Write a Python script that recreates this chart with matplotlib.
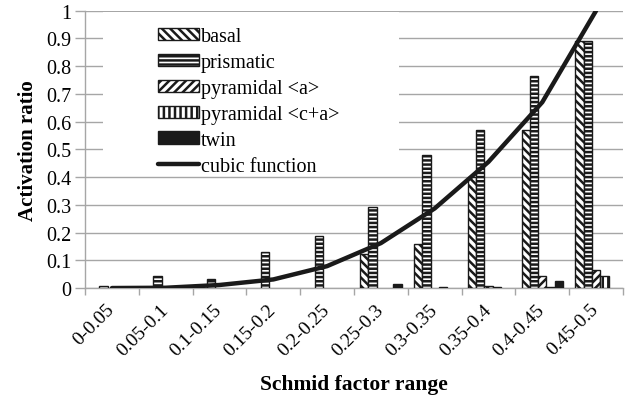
import numpy as np
import matplotlib
matplotlib.use("Agg")
from matplotlib import pyplot as plt
from matplotlib.patches import Rectangle
from matplotlib.transforms import ScaledTranslation

plt.rcParams['font.family'] = ['Liberation Serif', 'DejaVu Serif']
plt.rcParams['hatch.linewidth'] = 1.8

rangos = ["0-0.05", "0.05-0.1", "0.1-0.15", "0.15-0.2", "0.2-0.25",
          "0.25-0.3", "0.3-0.35", "0.35-0.4", "0.4-0.45", "0.45-0.5"]
basal = [0, 0, 0, 0, 0, 0.122, 0.159, 0.399, 0.568, 0.889]
prismatic = [0.008, 0.043, 0.032, 0.13, 0.186, 0.293, 0.479, 0.571, 0.763, 0.889]
pyr_a = [0, 0, 0, 0, 0, 0, 0, 0.008, 0.042, 0.066]
pyr_ca = [0, 0, 0, 0, 0, 0, 0.003, 0.003, 0.003, 0.045]
twin = [0, 0, 0, 0, 0, 0.014, 0, 0, 0.025, 0]
cubic = [0.0, 0.001, 0.011, 0.031, 0.079, 0.162, 0.287, 0.455, 0.67, 1.0]

fig = plt.figure(figsize=(6.27, 4.02), dpi=100)
ax = fig.add_axes([0.1356, 0.281, 0.858, 0.69])

x = np.arange(len(rangos))
w = 0.154
series = [
    ("basal", basal, "\\\\\\\\", "white"),
    ("prismatic", prismatic, "----", "white"),
    ("pyramidal <a>", pyr_a, "////", "white"),
    ("pyramidal <c+a>", pyr_ca, "|||", "white"),
    ("twin", twin, "", "#1a1a1a"),
]
handles = []
for i, (nombre, vals, h, col) in enumerate(series):
    v = np.array(vals, dtype=float)
    v = np.where(v > 0, v, np.nan)
    b = ax.bar(x + (i - 2) * w, v, w, color=col, edgecolor="#1a1a1a",
               hatch=h, linewidth=1.0, label=nombre, zorder=3)
    handles.append(b)

linea, = ax.plot(x, cubic, color="#1a1a1a", lw=3.2, solid_capstyle="round",
                 label="cubic function", zorder=4)
handles.append(linea)

# fondo blanco de la leyenda (tapa la rejilla)
ax.add_patch(Rectangle((0.033, 0.405), 0.55, 0.59, transform=ax.transAxes,
                       facecolor="white", edgecolor="none", zorder=2))

ax.set_xlim(-0.5, 9.5)
ax.set_ylim(0, 1)
ax.set_yticks(np.arange(0, 1.01, 0.1))
ax.set_yticklabels(["0", "0.1", "0.2", "0.3", "0.4", "0.5", "0.6", "0.7", "0.8", "0.9", "1"])
ax.yaxis.grid(True, color="#a6a6a6", lw=1.0, zorder=0)
ax.set_axisbelow(True)

ax.set_xticks(x)
ax.set_xticklabels(rangos, rotation=45, ha="right", va="top", rotation_mode="anchor")
ax.set_xticks(np.arange(-0.5, 10, 1), minor=True)
ax.tick_params(axis="x", which="major", length=0, pad=9, labelsize=14)
ax.tick_params(axis="x", which="minor", length=5, color="#a6a6a6", width=1)
ax.tick_params(axis="y", length=7, color="#a6a6a6", width=1, labelsize=14.5, pad=3)
desplaza = ScaledTranslation(-6 / 100, 0, fig.dpi_scale_trans)
for lbl in ax.get_xticklabels():
    lbl.set_transform(lbl.get_transform() + desplaza)

for s in ["top", "right"]:
    ax.spines[s].set_visible(False)
for s in ["left", "bottom"]:
    ax.spines[s].set_color("#a6a6a6")
    ax.spines[s].set_linewidth(1.0)

ax.set_xlabel("Schmid factor range", fontsize=15.5, fontweight="bold", labelpad=11)
ax.set_ylabel("Activation ratio", fontsize=15, fontweight="bold", labelpad=6)

ax.legend(handles=handles, loc="upper left", bbox_to_anchor=(0.135, 0.94),
          frameon=False, fontsize=14.5, handlelength=2.05, handleheight=0.55,
          handletextpad=0.1, labelspacing=0.34, borderaxespad=0, borderpad=0)

fig.savefig("out.png", dpi=100)
